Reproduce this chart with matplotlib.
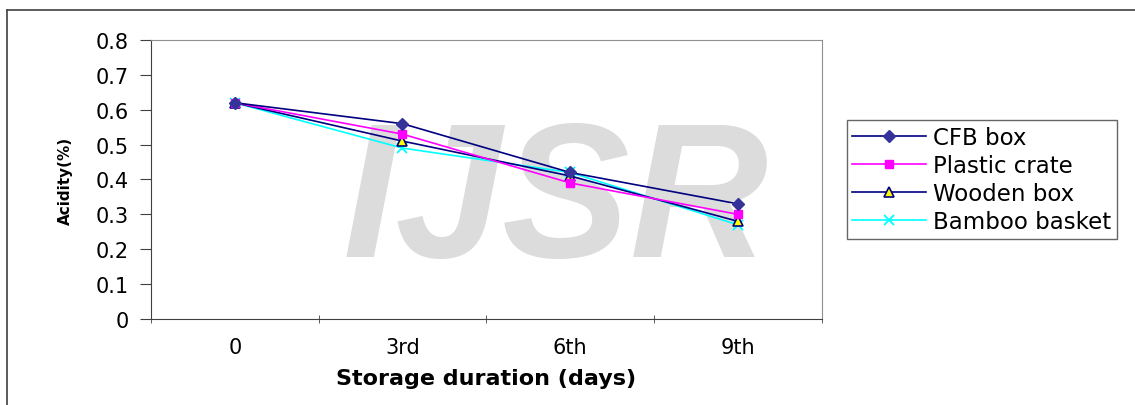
import numpy as np
import matplotlib.pyplot as plt

plt.rcParams['font.family'] = ['DejaVu Sans']

# Acidity (%) over storage time for each packaging type
days = ['0', '3rd', '6th', '9th']
cfb_box = [0.62, 0.56, 0.42, 0.33]
plastic_crate = [0.62, 0.53, 0.39, 0.30]
wooden_box = [0.62, 0.51, 0.41, 0.28]
bamboo_basket = [0.62, 0.49, 0.42, 0.27]

x = np.arange(len(days))

fig = plt.figure(figsize=(11.35, 4.06), dpi=100)
ax = fig.add_axes([0.133, 0.212, 0.591, 0.687])
ax.set_zorder(1)

# faint watermark behind the plot
fig.text(0.49, 0.49, 'IJSR', fontsize=138, fontweight='bold', style='italic',
         family='Liberation Sans', color='#dcdcdc', ha='center', va='center', zorder=0)

ax.plot(x, cfb_box, color='#000080', lw=1.2, marker='D', ms=6,
        mfc='#333399', mec='#333399', label='CFB box', zorder=5)
ax.plot(x, plastic_crate, color='#ff00ff', lw=1.2, marker='s', ms=6,
        mfc='#ff00ff', mec='#ff00ff', label='Plastic crate', zorder=4)
ax.plot(x, wooden_box, color='#000080', lw=1.2, marker='^', ms=7,
        mfc='#ffff00', mec='#000080', mew=1.2, label='Wooden box', zorder=3)
ax.plot(x, bamboo_basket, color='#00ffff', lw=1.2, marker='x', ms=7,
        mew=1.3, label='Bamboo basket', zorder=2)

ax.patch.set_alpha(0)
ax.set_xlim(-0.5, 3.5)
ax.set_ylim(0, 0.8)
ax.set_xticks(x)
ax.set_xticklabels(days)
ax.set_xticks(np.arange(-0.5, 4.0, 1.0), minor=True)
ax.tick_params(axis='x', which='major', length=0, pad=13, labelsize=15)
ax.tick_params(axis='x', which='minor', length=6, direction='inout', color='#404040')
ax.set_yticks(np.arange(0, 0.81, 0.1))
ax.set_yticklabels(['0', '0.1', '0.2', '0.3', '0.4', '0.5', '0.6', '0.7', '0.8'])
ax.tick_params(axis='y', length=8, direction='out', pad=8, labelsize=15, color='#404040')

for side in ['left', 'bottom']:
    ax.spines[side].set_color('#404040')
for side in ['top', 'right']:
    ax.spines[side].set_color('#909090')

ax.set_xlabel('Storage duration (days)', fontsize=16, fontweight='bold', labelpad=8)
ax.set_ylabel('Acidity(%)', fontsize=11, fontweight='bold', labelpad=16)

leg = fig.legend(loc='upper left', bbox_to_anchor=(0.746, 0.702), fontsize=16.5,
                 frameon=True, fancybox=False, handlelength=3.2, borderaxespad=0,
                 borderpad=0.25, labelspacing=0.22, handletextpad=0.3)
leg.get_frame().set_edgecolor('#404040')
leg.get_frame().set_linewidth(1.0)
leg.set_zorder(2)

# outer chart border (left and top edges)
fig.add_artist(plt.Line2D([0.0062, 0.0062], [0, 0.973], color='#404040', lw=1.2))
fig.add_artist(plt.Line2D([0.0062, 1.0], [0.973, 0.973], color='#404040', lw=1.2))

fig.savefig('out.png', dpi=100)
